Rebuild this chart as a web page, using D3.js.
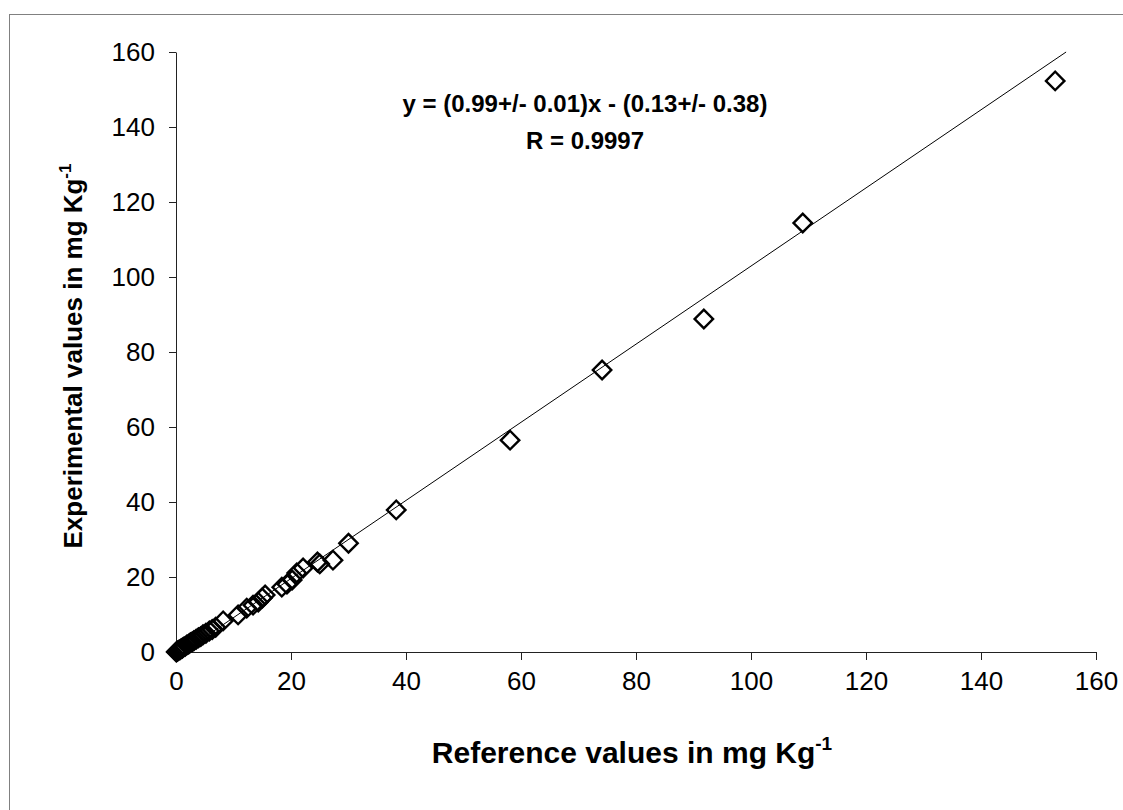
<!DOCTYPE html>
<html>
<head>
<meta charset="utf-8">
<script src="https://cdn.jsdelivr.net/npm/d3@7"></script>
<style>
  body { margin: 0; background: #fff; }
  svg text { font-family: "Liberation Sans", Arial, sans-serif; fill: #000; }
</style>
</head>
<body>
<div id="chart"></div>
<script>
const refVals = [0.05, 0.1, 0.2, 0.3, 0.4, 0.5, 0.7, 0.9, 1.1, 1.3, 1.6, 1.9, 2.2, 2.5, 2.8,
  3.1, 3.5, 3.9, 4.3, 4.7, 5.2, 5.8, 6.3, 6.9, 8.2, 10.8, 12.3, 13.4, 14.3, 15.0, 15.5,
  18.4, 19.3, 20.2, 21.0, 22.1, 24.6, 25.0, 27.3, 30.0, 38.3, 58.1, 74.1, 91.8, 109.0, 152.9];
const expVals = [0.0, 0.1, 0.15, 0.3, 0.35, 0.5, 0.6, 0.9, 1.0, 1.3, 1.5, 1.9, 2.1, 2.5, 2.7,
  3.0, 3.4, 3.8, 4.1, 4.6, 5.0, 5.6, 6.0, 6.6, 8.3, 9.9, 11.7, 12.5, 13.3, 14.4, 15.2,
  17.3, 18.1, 19.2, 21.1, 22.4, 24.0, 23.5, 24.5, 29.0, 37.9, 56.5, 75.2, 88.8, 114.4, 152.3];

// trendline as drawn on the picture (two end points)
const trendX = [1.2, 154.8];
const trendY = [0, 160];

const ticks = [0, 20, 40, 60, 80, 100, 120, 140, 160];
const eqLines = ["y = (0.99+/- 0.01)x - (0.13+/- 0.38)", "R = 0.9997"];

const W = 1123, H = 810;
const margin = { top: 52, right: 27, bottom: 158, left: 176 };

const svg = d3.select('#chart').append('svg')
  .attr('width', W)
  .attr('height', H);

// outer frame
svg.append('rect')
  .attr('x', 9.5).attr('y', 14.5)
  .attr('width', W + 20).attr('height', H + 20)
  .attr('fill', 'none')
  .attr('stroke', '#808080')
  .attr('stroke-width', 1);

const x = d3.scaleLinear().domain([0, 160]).range([margin.left, W - margin.right]);
const y = d3.scaleLinear().domain([0, 160]).range([H - margin.bottom, margin.top]);

const xAxis = svg.append('g')
  .attr('transform', `translate(0,${y(0)})`)
  .call(d3.axisBottom(x).tickValues(ticks).tickSize(8).tickSizeOuter(0).tickPadding(12));

const yAxis = svg.append('g')
  .attr('transform', `translate(${x(0)},0)`)
  .call(d3.axisLeft(y).tickValues(ticks).tickSize(7).tickSizeOuter(0).tickPadding(14));

[xAxis, yAxis].forEach(a => {
  a.select('.domain').attr('stroke', '#222');
  a.selectAll('.tick line').attr('stroke', '#222');
  a.selectAll('.tick text')
    .style('font-size', '26px')
    .style('font-family', '"Liberation Sans", Arial, sans-serif')
    .attr('fill', '#000');
});

// trendline
svg.append('line')
  .attr('x1', x(trendX[0])).attr('y1', y(trendY[0]))
  .attr('x2', x(trendX[1])).attr('y2', y(trendY[1]))
  .attr('stroke', '#000')
  .attr('stroke-width', 1);

// diamond markers, hollow
const diamond = d3.symbol().type(d3.symbolSquare).size(170);
svg.append('g').selectAll('path')
  .data(refVals.map((r, i) => [r, expVals[i]]))
  .enter()
  .append('path')
  .attr('d', diamond)
  .attr('transform', d => `translate(${x(d[0])},${y(d[1])}) rotate(45)`)
  .attr('fill', 'none')
  .attr('stroke', '#000')
  .attr('stroke-width', 2.4);

// equation
svg.append('g').selectAll('text')
  .data(eqLines)
  .enter()
  .append('text')
  .attr('x', 585)
  .attr('y', (d, i) => 112 + i * 37)
  .attr('text-anchor', 'middle')
  .style('font-size', '24px')
  .style('font-weight', 'bold')
  .text(d => d);

// axis titles
const xt = svg.append('text')
  .attr('x', 632).attr('y', 763)
  .attr('text-anchor', 'middle')
  .style('font-size', '30px')
  .style('font-weight', 'bold');
xt.append('tspan').text('Reference values in mg Kg');
xt.append('tspan').attr('dy', -13).style('font-size', '19px').text('-1');

const yt = svg.append('text')
  .attr('transform', 'translate(82,356) rotate(-90)')
  .attr('text-anchor', 'middle')
  .style('font-size', '26px')
  .style('font-weight', 'bold');
yt.append('tspan').text('Experimental values in mg Kg');
yt.append('tspan').attr('dy', -11).style('font-size', '17px').text('-1');
</script>
</body>
</html>
